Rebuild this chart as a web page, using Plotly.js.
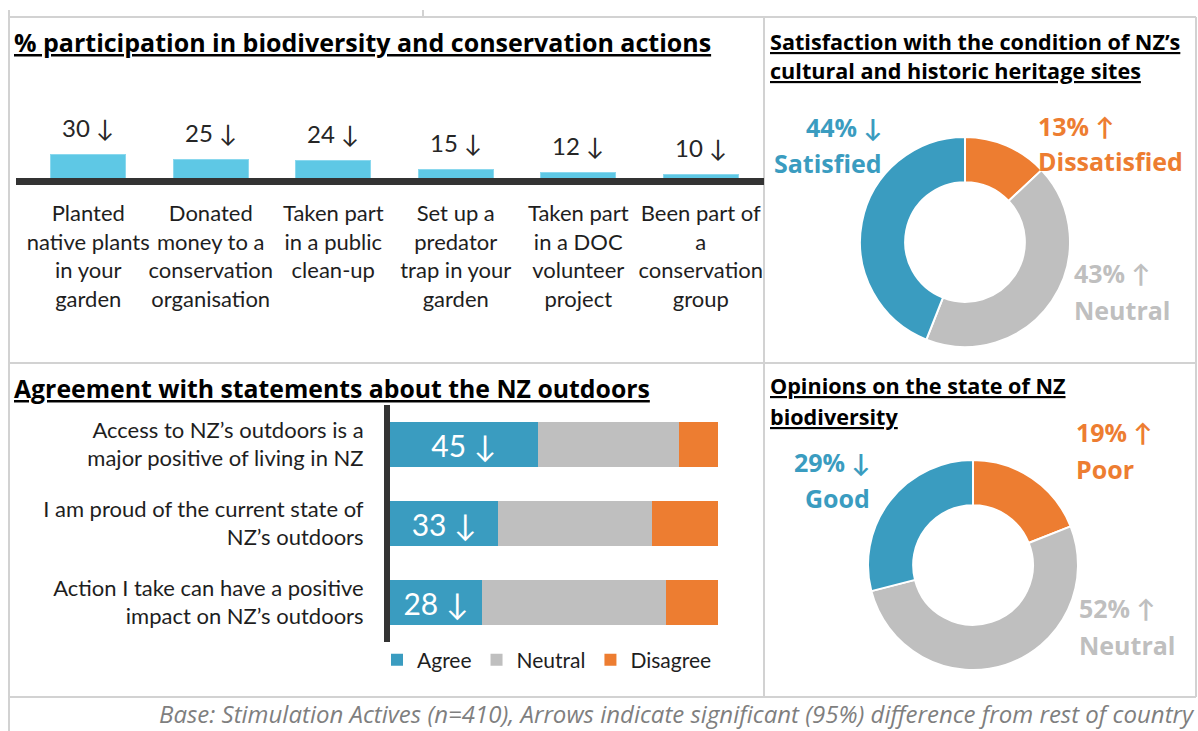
<!DOCTYPE html>
<html>
<head>
<meta charset="utf-8">
<script src="https://cdn.plot.ly/plotly-3.0.1.min.js"></script>
<style>html,body{margin:0;padding:0;background:#fff;}#chart{width:1198px;height:731px;}</style>
</head>
<body>
<div id="chart"></div>
<script>
// ---------- data ----------
const actionLabels = [
  'Planted<br>native plants<br>in your<br>garden',
  'Donated<br>money to a<br>conservation<br>organisation',
  'Taken part<br>in a public<br>clean-up',
  'Set up a<br>predator<br>trap in your<br>garden',
  'Taken part<br>in a DOC<br>volunteer<br>project',
  'Been part of<br>a<br>conservation<br>group'
];
const actionValues = [30, 25, 24, 15, 12, 10];
const actionArrows = ['↓', '↓', '↓', '↓', '↓', '↓'];

const statements = [
  'Access to NZ’s outdoors is a<br>major positive of living in NZ',
  'I am proud of the current state of<br>NZ’s outdoors',
  'Action I take can have a positive<br>impact on NZ’s outdoors'
];
const agreeValues = [45, 33, 28];
const neutralValues = [43, 47, 56];
const disagreeValues = [12, 20, 16];
const agreeArrows = ['↓', '↓', '↓'];

const heritageLabels = ['Dissatisfied', 'Neutral', 'Satisfied'];
const heritageValues = [13, 43, 44];
const heritageArrows = ['↑', '↑', '↓'];

const biodivLabels = ['Poor', 'Neutral', 'Good'];
const biodivValues = [19, 52, 29];
const biodivArrows = ['↑', '↑', '↓'];

// ---------- style ----------
const W = 1198, H = 731;
const px = x => x / W;
const py = y => 1 - y / H;
const FONT = 'Lato, "Liberation Sans", sans-serif';
const FONT2 = '"Open Sans", Lato, sans-serif';
const BLUE = '#3A9CC0', LBLUE = '#5EC8E5', GREY = '#BFBFBF', ORANGE = '#ED7D31';
const TXT = '#1E1E1E', BORDER = '#D2D2D2';

const traces = [];

// Panel 1: participation bars
traces.push({
  type: 'bar', x: actionLabels, y: actionValues, xaxis: 'x', yaxis: 'y',
  marker: {color: LBLUE, line: {color: '#8ad8ee', width: 1}}, width: 0.61,
  showlegend: false, hoverinfo: 'x+y'
});

// Panel 3: agreement stacked bars
traces.push({
  type: 'bar', orientation: 'h', name: 'Agree', y: statements, x: agreeValues,
  xaxis: 'x3', yaxis: 'y3', marker: {color: BLUE}, width: 0.57,
  text: agreeValues.map((v, i) => v + ' ' + agreeArrows[i]),
  textposition: 'inside', insidetextanchor: 'middle', constraintext: 'none',
  textfont: {family: FONT, size: 30, color: '#ffffff'}, textangle: 0
});
traces.push({
  type: 'bar', orientation: 'h', name: 'Neutral', y: statements, x: neutralValues,
  xaxis: 'x3', yaxis: 'y3', marker: {color: GREY}, width: 0.57, textposition: 'none'
});
traces.push({
  type: 'bar', orientation: 'h', name: 'Disagree', y: statements, x: disagreeValues,
  xaxis: 'x3', yaxis: 'y3', marker: {color: ORANGE}, width: 0.57, textposition: 'none'
});

// Panel 2 & 4: donuts
const pieColors = [ORANGE, GREY, BLUE];
traces.push({
  type: 'pie', labels: heritageLabels, values: heritageValues, hole: 0.57,
  sort: false, direction: 'clockwise', rotation: 0, textinfo: 'none',
  marker: {colors: pieColors, line: {color: '#ffffff', width: 2}},
  domain: {x: [px(860), px(1070)], y: [py(347), py(137)]}, showlegend: false
});
traces.push({
  type: 'pie', labels: biodivLabels, values: biodivValues, hole: 0.57,
  sort: false, direction: 'clockwise', rotation: 0, textinfo: 'none',
  marker: {colors: pieColors, line: {color: '#ffffff', width: 2}},
  domain: {x: [px(868), px(1078)], y: [py(670), py(460)]}, showlegend: false
});

// ---------- annotations ----------
const ann = [];
const title = (text, x, y, size) => ann.push({
  text: '<b><u>' + text + '</u></b>', xref: 'paper', yref: 'paper', x: px(x), y: py(y),
  xanchor: 'left', yanchor: 'middle', showarrow: false,
  font: {family: FONT2, size: size, color: '#000'}
});
title('% participation in biodiversity and conservation actions', 12, 42, 25);
title('Agreement with statements about the NZ outdoors', 12, 388, 24.8);
title('Satisfaction with the condition of NZ’s', 768, 41, 21.6);
title('cultural and historic heritage sites', 768, 71, 21.6);
title('Opinions on the state of NZ', 768, 385, 21.6);
title('biodiversity', 768, 416, 21.6);

// value labels above participation bars
actionValues.forEach((v, i) => ann.push({
  x: actionLabels[i], y: v, xref: 'x', yref: 'y', text: v + ' ' + actionArrows[i],
  showarrow: false, yanchor: 'bottom', yshift: 10,
  font: {family: FONT, size: 24, color: '#262626'}
}));

// donut labels
const colorsByIdx = [ORANGE, '#BFBFBF', '#3A9CC0'];
function donutLabels(labels, values, arrows, pos) {
  labels.forEach((lab, i) => {
    const p = pos[i];
    ann.push({xref: 'paper', yref: 'paper', x: px(p.x), y: py(p.y1), xanchor: p.a, yanchor: 'middle',
      showarrow: false, text: '<b>' + values[i] + '% ' + arrows[i] + '</b>',
      font: {family: FONT2, size: 25, color: colorsByIdx[i]}});
    ann.push({xref: 'paper', yref: 'paper', x: px(p.x), y: py(p.y2), xanchor: p.a, yanchor: 'middle',
      showarrow: false, text: '<b>' + lab + '</b>',
      font: {family: FONT2, size: 25, color: colorsByIdx[i]}});
  });
}
donutLabels(heritageLabels, heritageValues, heritageArrows, [
  {x: 1036, y1: 126, y2: 161, a: 'left'},
  {x: 1072, y1: 273, y2: 310, a: 'left'},
  {x: 884, y1: 127, y2: 163, a: 'right'}
]);
donutLabels(biodivLabels, biodivValues, biodivArrows, [
  {x: 1074, y1: 432, y2: 469, a: 'left'},
  {x: 1077, y1: 608, y2: 645, a: 'left'},
  {x: 872, y1: 462, y2: 498, a: 'right'}
]);

// footnote
ann.push({xref: 'paper', yref: 'paper', x: px(1196), y: 0, xanchor: 'right', yanchor: 'bottom',
  showarrow: false, borderpad: 0,
  text: '<i>Base: Stimulation Actives (n=410), Arrows indicate significant (95%) difference from rest of country</i>',
  font: {family: FONT2, size: 24, color: '#7F7F7F'}});

// ---------- shapes ----------
const line = (x0, y0, x1, y1, color, width) => ({type: 'line', xref: 'paper', yref: 'paper',
  x0: px(x0), y0: py(y0), x1: px(x1), y1: py(y1), line: {color: color, width: width}, layer: 'above'});
const shapes = [
  line(9, 10, 9, 731, BORDER, 2),
  line(9, 17, 1196, 17, BORDER, 2),
  line(423, 10, 423, 17, BORDER, 2),
  line(1196, 17, 1196, 697, BORDER, 2),
  line(9, 363, 1196, 363, BORDER, 2),
  line(764, 17, 764, 697, BORDER, 2),
  line(9, 697, 1196, 697, BORDER, 2),
  line(16, 181.5, 764, 181.5, '#333333', 7)
];

const layout = {
  width: W, height: H, margin: {l: 0, r: 0, t: 0, b: 0},
  paper_bgcolor: '#ffffff', plot_bgcolor: 'rgba(0,0,0,0)',
  barmode: 'stack', font: {family: FONT, color: TXT},
  xaxis: {domain: [px(27), px(762)], anchor: 'y', type: 'category', showgrid: false, zeroline: false,
    showline: false, ticks: '', tickangle: 0, tickfont: {family: FONT, size: 22, color: TXT},
    ticklabelstandoff: 14, fixedrange: true},
  yaxis: {domain: [py(184), py(104)], anchor: 'x', range: [0, 80], visible: false, fixedrange: true},
  xaxis3: {domain: [px(390), px(718)], anchor: 'y3', range: [0, 100], visible: false, fixedrange: true},
  yaxis3: {domain: [py(642), py(405)], anchor: 'x3', type: 'category', autorange: 'reversed',
    showline: true, linewidth: 6, linecolor: '#333333', showgrid: false, zeroline: false,
    ticks: '', tickfont: {family: FONT, size: 22, color: TXT}, ticklabelstandoff: 16,
    fixedrange: true},
  legend: {orientation: 'h', x: px(377), y: py(660), xanchor: 'left', yanchor: 'middle',
    font: {family: FONT, size: 21, color: TXT}, itemwidth: 30, traceorder: 'normal',
    bgcolor: 'rgba(0,0,0,0)'},
  annotations: ann, shapes: shapes, showlegend: true
};

Plotly.newPlot('chart', traces, layout, {displayModeBar: false, staticPlot: true});
</script>
</body>
</html>
